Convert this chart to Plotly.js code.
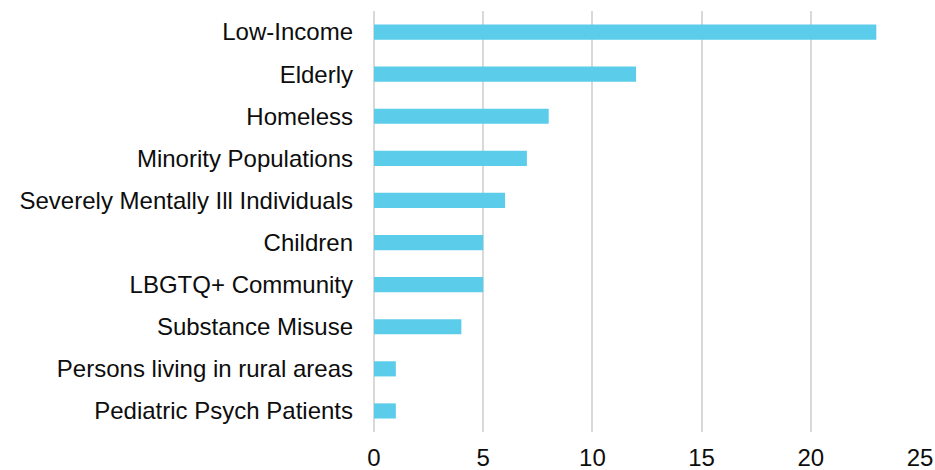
<!DOCTYPE html>
<html>
<head>
<meta charset="utf-8">
<script src="https://cdn.plot.ly/plotly-3.0.1.min.js"></script>
<style>html,body{margin:0;padding:0;background:#fff;}#chart{width:935px;height:470px;}</style>
</head>
<body>
<div id="chart"></div>
<script>
const categories = ["Low-Income","Elderly","Homeless","Minority Populations","Severely Mentally Ill Individuals","Children","LBGTQ+ Community","Substance Misuse","Persons living in rural areas","Pediatric Psych Patients"];
const values = [23,12,8,7,6,5,5,4,1,1];
const xTicks = [0,5,10,15,20,25];

const trace = {
  type: "bar",
  orientation: "h",
  y: categories,
  x: values,
  width: 0.36,
  marker: {color: "#5BCDEA", line: {width: 0}},
  hoverinfo: "skip"
};
const layout = {
  width: 935, height: 470,
  margin: {l: 374, r: 15, t: 11, b: 38},
  paper_bgcolor: "#fff", plot_bgcolor: "#fff",
  showlegend: false,
  font: {family: "Liberation Sans, Arial, sans-serif", size: 24, color: "#0d0d0d"},
  xaxis: {
    range: [0, 25], tickvals: xTicks, ticktext: xTicks.map(String),
    showgrid: true, gridcolor: "#d9d9d9", gridwidth: 2,
    zeroline: true, zerolinecolor: "#d9d9d9", zerolinewidth: 2,
    showline: false, ticks: "", fixedrange: true,
    ticklabelstandoff: 9,
    tickfont: {size: 24, color: "#0d0d0d"}
  },
  yaxis: {
    categoryorder: "array", categoryarray: categories.slice().reverse(),
    autorange: false, range: [-0.5, 9.5],
    showgrid: false, zeroline: false, showline: false, ticks: "",
    ticklabelstandoff: 20,
    tickfont: {size: 24, color: "#0d0d0d"}
  }
};
Plotly.newPlot("chart", [trace], layout, {staticPlot: true, displayModeBar: false});
</script>
</body>
</html>
